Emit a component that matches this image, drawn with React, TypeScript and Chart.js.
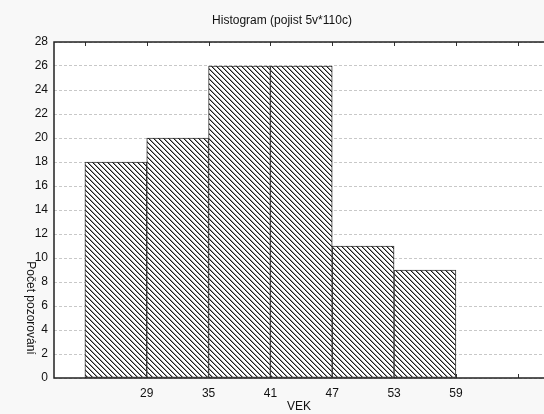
import React, { useEffect, useRef } from 'react';
import { Chart, registerables } from 'chart.js';

Chart.register(...registerables);

// ---- data ----
const binEdges = [23, 29, 35, 41, 47, 53, 59];
const counts = [18, 20, 26, 26, 11, 9];
const xTickValues = [23, 29, 35, 41, 47, 53, 59, 65];
const xTickLabels = ['29', '35', '41', '47', '53', '59'];
const yMin = 0;
const yMax = 28;
const yStep = 2;
const xMin = 20;
const xMax = 67.55;
const titleText = 'Histogram (pojist 5v*110c)';
const xTitleText = 'VEK';
const yTitleText = 'Počet pozorování';

const FONT = 'Arial, "Liberation Sans", sans-serif';

function makePattern(): CanvasPattern | string {
  const c = document.createElement('canvas');
  const n = 5;
  c.width = n;
  c.height = n;
  const g = c.getContext('2d');
  if (!g) return '#888';
  g.fillStyle = '#ffffff';
  g.fillRect(0, 0, n, n);
  for (let i = 0; i < n; i++) {
    g.fillStyle = '#1a1a1a';
    g.fillRect(i, i, 1, 1);
    g.fillStyle = '#9a9a9a';
    g.fillRect((i + 1) % n, i, 1, 1);
  }
  const ctx = document.createElement('canvas').getContext('2d');
  return ctx ? (ctx.createPattern(c, 'repeat') as CanvasPattern) : '#888';
}

const framePlugin = {
  id: 'framePlugin',
  beforeDraw(chart: any) {
    const { ctx, chartArea } = chart;
    ctx.save();
    ctx.fillStyle = '#f8f8f8';
    ctx.fillRect(0, 0, chart.width, chart.height);
    ctx.fillStyle = '#ffffff';
    ctx.fillRect(chartArea.left, chartArea.top, chartArea.right - chartArea.left, chartArea.bottom - chartArea.top);
    ctx.restore();
  },
  beforeDatasetsDraw(chart: any) {
    const { ctx, chartArea } = chart;
    const xs = chart.scales.x;
    ctx.save();
    ctx.strokeStyle = '#333';
    ctx.lineWidth = 1;
    for (const v of xTickValues) {
      const px = Math.round(xs.getPixelForValue(v)) + 0.5;
      ctx.beginPath();
      ctx.moveTo(px, chartArea.top);
      ctx.lineTo(px, chartArea.top + 4);
      ctx.moveTo(px, chartArea.bottom);
      ctx.lineTo(px, chartArea.bottom - 4);
      ctx.stroke();
    }
    ctx.restore();
  },
  afterDraw(chart: any) {
    const { ctx, chartArea } = chart;
    ctx.save();
    ctx.strokeStyle = '#222';
    ctx.lineWidth = 1.5;
    ctx.beginPath();
    ctx.moveTo(chartArea.right + 2, chartArea.top);
    ctx.lineTo(chartArea.left, chartArea.top);
    ctx.lineTo(chartArea.left, chartArea.bottom);
    ctx.lineTo(chartArea.right + 2, chartArea.bottom);
    ctx.stroke();

    ctx.fillStyle = '#111';
    ctx.font = `12px ${FONT}`;
    ctx.textAlign = 'center';
    ctx.textBaseline = 'middle';
    ctx.fillText(titleText, 282, 21);
    ctx.fillText(xTitleText, (chartArea.left + chartArea.right) / 2, 407);
    ctx.translate(30, 308);
    ctx.rotate(Math.PI / 2);
    ctx.fillText(yTitleText, 0, 0);
    ctx.restore();
  },
};

export default function App() {
  const ref = useRef<HTMLCanvasElement | null>(null);

  useEffect(() => {
    document.body.style.margin = '0';
    const canvas = ref.current;
    if (!canvas) return;
    const pattern = makePattern();
    const data = counts.map((c, i) => ({ x: (binEdges[i] + binEdges[i + 1]) / 2, y: c }));
    const chart = new Chart(canvas, {
      type: 'bar',
      data: {
        datasets: [
          {
            data: data as any,
            backgroundColor: pattern as any,
            borderColor: '#333',
            borderWidth: 1,
            borderSkipped: false,
            barPercentage: 1,
            categoryPercentage: 1,
          },
        ],
      },
      options: {
        animation: false,
        responsive: false,
        devicePixelRatio: 1,
        layout: { padding: { top: 42, left: 0, right: 0, bottom: 0 } },
        plugins: { legend: { display: false }, tooltip: { enabled: false }, title: { display: false } },
        scales: {
          x: {
            type: 'linear',
            offset: false,
            min: xMin,
            max: xMax,
            afterBuildTicks(scale: any) {
              scale.ticks = xTickValues.map((v) => ({ value: v }));
            },
            afterFit(scale: any) {
              scale.height = 36;
            },
            grid: { display: false, drawTicks: false, offset: false },
            border: { display: false },
            ticks: {
              autoSkip: false,
              maxRotation: 0,
              padding: 8,
              color: '#111',
              font: { family: FONT, size: 12 },
              callback: (v: any) => (xTickLabels.includes(String(v)) ? String(v) : ''),
            },
          },
          y: {
            min: yMin,
            max: yMax,
            afterFit(scale: any) {
              scale.width = 54;
            },
            grid: { color: '#c8c8c8', drawTicks: false, lineWidth: 1 },
            border: { display: false, dash: [3, 2] },
            ticks: {
              stepSize: yStep,
              padding: 6,
              color: '#111',
              font: { family: FONT, size: 12 },
            },
          },
        },
      },
      plugins: [framePlugin],
    });
    return () => chart.destroy();
  }, []);

  return (
    <div style={{ position: 'absolute', left: 0, top: 0, width: 544, height: 414 }}>
      <canvas ref={ref} width={544} height={414} />
    </div>
  );
}
